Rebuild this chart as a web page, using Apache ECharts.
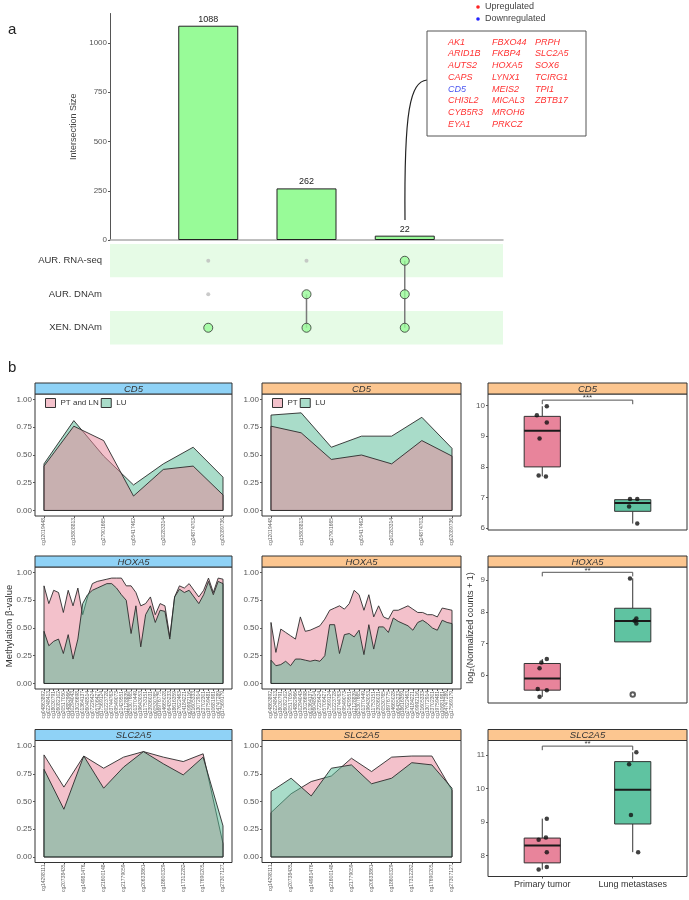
<!DOCTYPE html>
<html>
<head>
<meta charset="utf-8">
<script src="https://cdn.jsdelivr.net/npm/echarts@6/dist/echarts.min.js"></script>
<style>
  html, body { margin: 0; padding: 0; background: #fff; }
  #chart { width: 689px; height: 900px; }
</style>
</head>
<body>
<div id="chart"></div>
<script>
// ---------- panel a : UpSet ----------
const setNames = ["AUR. RNA-seq", "AUR. DNAm", "XEN. DNAm"];
const intersectSizes = [1088, 262, 22];
// membership[set][intersection]
const membership = [
  [0, 0, 1],
  [0, 1, 1],
  [1, 1, 1],
];
const sizeTicks = [0, 250, 500, 750, 1000];
const geneCols = [
  ["AK1", "ARID1B", "AUTS2", "CAPS", "CD5", "CHI3L2", "CYB5R3", "EYA1"],
  ["FBXO44", "FKBP4", "HOXA5", "LYNX1", "MEIS2", "MICAL3", "MROH6", "PRKCZ"],
  ["PRPH", "SLC2A5", "SOX6", "TCIRG1", "TPI1", "ZBTB17"],
];
const downGenes = ["CD5"];

// ---------- panel b : methylation areas ----------
const betaTicks = [0, 0.25, 0.5, 0.75, 1];
const cd5Probes = ["cg12019448", "cg15808813", "cg27901665", "cg05417462", "cg20283314", "cg24874703", "cg02089736"];
const cd5TumPtLn = [0.40, 0.76, 0.63, 0.13, 0.37, 0.40, 0.14];
const cd5TumLu = [0.42, 0.81, 0.49, 0.23, 0.42, 0.57, 0.30];
const cd5XenPt = [0.76, 0.70, 0.46, 0.50, 0.42, 0.63, 0.49];
const cd5XenLu = [0.86, 0.88, 0.57, 0.67, 0.67, 0.84, 0.56];

const hoxa5Probes = ["cg04863892", "cg02248413", "cg18030791", "cg26082102", "cg20517050", "cg14882966", "cg10294043",
  "cg13026698", "cg01364137", "cg26048514", "cg07226424", "cg05706427", "cg17569124", "cg20223728", "cg03744763",
  "cg09549073", "cg21429551", "cg12128839", "cg25307665", "cg01370449", "cg19643053", "cg11753151", "cg23936031",
  "cg00530765", "cg16976775", "cg14665028", "cg06435233", "cg18616359", "cg27622463", "cg24184221", "cg09992116",
  "cg21605333", "cg13072914", "cg23702301", "cg19759481", "cg10681981", "cg04747289", "cg17569179"];
const hoxa5TumPtLn = [0.88, 0.72, 0.84, 0.82, 0.64, 0.84, 0.70, 0.86, 0.62, 0.78, 0.90, 0.92, 0.93, 0.94, 0.95, 0.95,
  0.95, 0.88, 0.88, 0.82, 0.70, 0.72, 0.78, 0.62, 0.72, 0.70, 0.42, 0.78, 0.88, 0.86, 0.90, 0.84, 0.78, 0.84, 0.95,
  0.82, 0.95, 0.94];
const hoxa5TumLu = [0.47, 0.34, 0.38, 0.40, 0.27, 0.44, 0.22, 0.40, 0.72, 0.80, 0.84, 0.86, 0.88, 0.90, 0.90, 0.86,
  0.80, 0.75, 0.45, 0.70, 0.33, 0.62, 0.70, 0.55, 0.66, 0.65, 0.40, 0.78, 0.85, 0.82, 0.84, 0.78, 0.72, 0.80, 0.92,
  0.80, 0.92, 0.90];
const hoxa5XenPt = [0.55, 0.28, 0.49, 0.46, 0.43, 0.40, 0.60, 0.47, 0.48, 0.50, 0.52, 0.58, 0.66, 0.68, 0.70, 0.67,
  0.72, 0.84, 0.80, 0.66, 0.80, 0.60, 0.70, 0.60, 0.58, 0.66, 0.66, 0.68, 0.70, 0.67, 0.64, 0.64, 0.62, 0.62, 0.60,
  0.68, 0.67, 0.66];
const hoxa5XenLu = [0.21, 0.16, 0.17, 0.20, 0.16, 0.22, 0.22, 0.21, 0.20, 0.21, 0.20, 0.25, 0.53, 0.53, 0.27, 0.44,
  0.45, 0.42, 0.48, 0.26, 0.53, 0.31, 0.51, 0.51, 0.46, 0.59, 0.56, 0.54, 0.52, 0.48, 0.55, 0.57, 0.54, 0.50, 0.48,
  0.57, 0.55, 0.54];

const slc2a5Probes = ["cg14298111", "cg20738435", "cg14981476", "cg21600148", "cg21779059", "cg20633861",
  "cg18600329", "cg17312282", "cg17690205", "cg27307127"];
const slc2a5TumPtLn = [0.92, 0.63, 0.91, 0.80, 0.90, 0.95, 0.90, 0.86, 0.93, 0.12];
const slc2a5TumLu = [0.79, 0.43, 0.91, 0.62, 0.81, 0.95, 0.84, 0.74, 0.90, 0.28];
const slc2a5XenPt = [0.40, 0.57, 0.68, 0.73, 0.89, 0.77, 0.90, 0.91, 0.91, 0.60];
const slc2a5XenLu = [0.59, 0.71, 0.55, 0.80, 0.83, 0.66, 0.71, 0.85, 0.83, 0.62];

// ---------- panel b : expression boxplots ----------
const boxGroups = ["Primary tumor", "Lung metastases"];
// [lower whisker, Q1, median, Q3, upper whisker]
const cd5Box = [[7.69, 8.0, 9.18, 9.65, 9.98], [6.15, 6.55, 6.82, 6.93, 6.95]];
const cd5Points = [[0.94, 9.69], [1.05, 9.98], [1.05, 9.45], [0.97, 8.93], [0.96, 7.72], [1.04, 7.69],
  [1.97, 6.95], [2.05, 6.95], [1.96, 6.71], [2.05, 6.15]];
const cd5Outliers = [];
const cd5Sig = "***";
const cd5Ticks = [6, 7, 8, 9, 10];

const hoxa5Box = [[5.32, 5.53, 5.90, 6.37, 6.51], [7.05, 7.05, 7.71, 8.11, 9.05]];
const hoxa5Points = [[0.99, 6.40], [1.05, 6.51], [0.97, 6.22], [0.95, 5.57], [1.05, 5.53], [0.97, 5.32],
  [1.97, 9.05], [2.04, 7.79], [2.04, 7.63], [2.02, 7.72]];
const hoxa5Outliers = [[2, 5.39]];
const hoxa5Sig = "**";
const hoxa5Ticks = [6, 7, 8, 9];

const slc2a5Box = [[7.58, 7.78, 8.30, 8.52, 9.10], [8.10, 8.94, 9.96, 10.80, 11.08]];
const slc2a5Points = [[1.05, 9.10], [0.96, 8.47], [1.04, 8.54], [1.05, 8.10], [0.96, 7.58], [1.05, 7.66],
  [2.04, 11.08], [1.96, 10.72], [1.98, 9.21], [2.06, 8.10]];
const slc2a5Outliers = [];
const slc2a5Sig = "**";
const slc2a5Ticks = [8, 9, 10, 11];

// ---------- build ----------
const FONT = '"Liberation Sans", Arial, sans-serif';
const PINK = "rgba(231,131,151,0.5)";
const TEAL = "rgba(83,185,147,0.5)";
const BOX_COLORS = ["#e8849b", "#5fc3a1"];
const BLUE_STRIP = "#8fd2f6";
const ORANGE_STRIP = "#fcc690";

const chart = echarts.init(document.getElementById("chart"));
const grids = [], xAxes = [], yAxes = [], series = [], legends = [], graphics = [];

function txt(text, x, y, opts) {
  return Object.assign({
    type: "text", x: x, y: y, silent: true,
    style: Object.assign({
      text: text, x: 0, y: 0, fill: "#222", font: "10px " + FONT,
      textAlign: "left", textVerticalAlign: "middle", align: "left", verticalAlign: "middle",
    }, opts && opts.style),
  }, opts && opts.el);
}

// --- panel a
graphics.push(txt("a", 8, 30, { style: { font: "15px " + FONT } }));
grids.push({ left: 110, top: 13.5, width: 393, height: 226.5 });
xAxes.push({
  type: "value", gridIndex: 0, min: 0, max: 4,
  axisLine: { show: true, onZero: false, lineStyle: { color: "#aaa", width: 1.5 } },
  axisTick: { show: false }, axisLabel: { show: false }, splitLine: { show: false },
});
yAxes.push({
  type: "value", gridIndex: 0, min: 0, max: 1150,
  axisLine: { show: true, onZero: false, lineStyle: { color: "#555", width: 1 } },
  axisTick: { show: true, length: 2, customValues: sizeTicks, lineStyle: { color: "#555" } },
  axisLabel: { customValues: sizeTicks, fontSize: 8, color: "#555", margin: 3, fontFamily: FONT,
    formatter: v => String(v) },
  splitLine: { show: false },
  name: "Intersection Size", nameLocation: "middle", nameGap: 25,
  nameTextStyle: { fontSize: 9, color: "#444", fontFamily: FONT },
});
series.push({
  type: "bar", xAxisIndex: 0, yAxisIndex: 0, barWidth: 60,
  data: intersectSizes.map((v, i) => [i + 1, v]),
  itemStyle: { color: "#98fb98", borderColor: "#222", borderWidth: 1 },
  label: { show: true, position: "top", distance: 2, fontSize: 9, color: "#222", fontFamily: FONT },
});

grids.push({ left: 110, top: 244, width: 393, height: 100.5 });
xAxes.push({ type: "value", gridIndex: 1, min: 0, max: 4, show: false });
yAxes.push({
  type: "category", gridIndex: 1, data: setNames, inverse: true,
  axisLine: { show: false, onZero: false }, axisTick: { show: false },
  axisLabel: { fontSize: 9.5, color: "#333", margin: 8, fontFamily: FONT },
  splitArea: { show: true, areaStyle: { color: ["#e6fbe6", "#ffffff"] } },
});
const absentDots = [], presentDots = [];
membership.forEach((row, i) => row.forEach((m, j) => {
  (m ? presentDots : absentDots).push([j + 1, setNames[i]]);
}));
intersectSizes.forEach((_, j) => {
  const rows = setNames.filter((_, i) => membership[i][j]);
  if (rows.length > 1) {
    series.push({
      type: "line", xAxisIndex: 1, yAxisIndex: 1, symbol: "none", z: 2,
      data: [[j + 1, rows[0]], [j + 1, rows[rows.length - 1]]],
      lineStyle: { color: "#7a7a7a", width: 1.5 },
    });
  }
});
series.push({
  type: "scatter", xAxisIndex: 1, yAxisIndex: 1, data: absentDots, symbolSize: 4, z: 3,
  itemStyle: { color: "#bdbdbd" },
});
series.push({
  type: "scatter", xAxisIndex: 1, yAxisIndex: 1, data: presentDots, symbolSize: 9, z: 3,
  itemStyle: { color: "#98fb98", borderColor: "#333", borderWidth: 1 },
});

// gene annotation box
graphics.push({
  type: "bezierCurve", silent: true,
  shape: { x1: 405, y1: 220, cpx1: 404, cpy1: 110, cpx2: 410, cpy2: 82, x2: 427, y2: 80 },
  style: { stroke: "#222", lineWidth: 1.2, fill: null },
});
graphics.push({
  type: "rect", silent: true, shape: { x: 427, y: 31, width: 159, height: 105 },
  style: { fill: "#fff", stroke: "#555", lineWidth: 1 },
});
const geneColX = [448, 492, 535];
geneCols.forEach((col, c) => col.forEach((g, r) => {
  graphics.push(txt(g, geneColX[c], 42 + r * 11.75, {
    style: { font: "italic 9px " + FONT, fill: downGenes.includes(g) ? "#4a55f0" : "#f33" },
  }));
}));
graphics.push({ type: "circle", silent: true, shape: { cx: 478, cy: 7, r: 1.8 }, style: { fill: "#f22" } });
graphics.push({ type: "circle", silent: true, shape: { cx: 478, cy: 19, r: 1.8 }, style: { fill: "#22f" } });
graphics.push(txt("Upregulated", 485, 7, { style: { font: "9px " + FONT, fill: "#444" } }));
graphics.push(txt("Downregulated", 485, 19, { style: { font: "9px " + FONT, fill: "#444" } }));

// --- panel b
graphics.push(txt("b", 8, 368, { style: { font: "15px " + FONT } }));
const rowTop = [383, 556, 729.5];
const STRIP_H = 11;
const AREA_H = 122;
const BOX_H = 136;
const PAD = 9;
const colL = { x: 35, w: 197 }, colM = { x: 262, w: 199 }, colR = { x: 488, w: 199 };

function strip(col, row, gene, color) {
  graphics.push({
    type: "rect", silent: true, z: 10,
    shape: { x: col.x, y: rowTop[row], width: col.w, height: STRIP_H },
    style: { fill: color, stroke: "#333", lineWidth: 1 },
  });
  graphics.push(txt(gene, col.x + col.w / 2, rowTop[row] + STRIP_H / 2 + 0.5, {
    el: { z: 11 },
    style: { font: "italic 9.5px " + FONT, fill: "#333", textAlign: "center", align: "center" },
  }));
}

function areaPanel(col, row, gene, stripColor, probes, layers, legendNames) {
  const gi = grids.length;
  const top = rowTop[row] + STRIP_H;
  const n = probes.length;
  const idx = probes.map((_, i) => i);
  const m = PAD * (n - 1) / (col.w - 2 * PAD);
  grids.push({ left: col.x, top: top, width: col.w, height: AREA_H, show: true,
    borderColor: "#333", borderWidth: 1, backgroundColor: "transparent" });
  xAxes.push({
    type: "value", gridIndex: gi, min: -m, max: n - 1 + m,
    axisLine: { show: false, onZero: false }, splitLine: { show: false },
    axisTick: { customValues: idx, length: 2, lineStyle: { color: "#555" } },
    axisLabel: { customValues: idx, rotate: 90, fontSize: 5, color: "#666", margin: 2,
      fontFamily: FONT, formatter: v => probes[v] },
  });
  yAxes.push({
    type: "value", gridIndex: gi, min: -0.05, max: 1.05,
    axisLine: { show: false, onZero: false }, splitLine: { show: false },
    axisTick: { customValues: betaTicks, length: 2, lineStyle: { color: "#555" } },
    axisLabel: { customValues: betaTicks, fontSize: 8, color: "#555", margin: 3,
      fontFamily: FONT, formatter: v => v.toFixed(2) },
  });
  layers.forEach(layer => {
    const vals = layer.vals;
    series.push({
      type: "custom", name: layer.name, xAxisIndex: gi, yAxisIndex: gi,
      data: vals.map((v, i) => [i, v]),
      itemStyle: { color: layer.fill },
      renderItem: (params, api) => {
        if (params.dataIndex !== 0) return null;
        const pts = vals.map((v, i) => api.coord([i, v]));
        const b0 = api.coord([0, 0]), b1 = api.coord([vals.length - 1, 0]);
        return {
          type: "polygon",
          shape: { points: [b0].concat(pts, [b1]) },
          style: { fill: layer.fill, stroke: "#2b2b2b", lineWidth: 0.9 },
        };
      },
    });
  });
  if (legendNames) {
    legends.push({
      left: col.x + 10, top: top + 4, padding: 0, itemGap: 2, itemWidth: 10, itemHeight: 9,
      icon: "rect", selectedMode: false,
      data: legendNames.map(ln => ({ name: ln.name, itemStyle: { color: ln.fill, borderColor: "#333", borderWidth: 1 } })),
      textStyle: { fontSize: 8, color: "#333", fontFamily: FONT },
    });
  }
  strip(col, row, gene, stripColor);
}

function boxPanel(row, gene, yMin, yMax, ticks, stats, pts, outliers, sig, showX) {
  const gi = grids.length;
  const top = rowTop[row] + STRIP_H;
  grids.push({ left: colR.x, top: top, width: colR.w, height: BOX_H, show: true,
    borderColor: "#333", borderWidth: 1, backgroundColor: "transparent" });
  xAxes.push({
    type: "value", gridIndex: gi, min: 0.4, max: 2.6,
    axisLine: { show: false, onZero: false }, splitLine: { show: false },
    axisTick: { show: showX, customValues: [1, 2], length: 2, lineStyle: { color: "#555" } },
    axisLabel: { show: showX, customValues: [1, 2], fontSize: 9, color: "#333", margin: 4,
      fontFamily: FONT, formatter: v => boxGroups[v - 1] },
  });
  yAxes.push({
    type: "value", gridIndex: gi, min: yMin, max: yMax,
    axisLine: { show: false, onZero: false }, splitLine: { show: false },
    axisTick: { customValues: ticks, length: 2, lineStyle: { color: "#555" } },
    axisLabel: { customValues: ticks, fontSize: 8, color: "#555", margin: 3, fontFamily: FONT },
  });
  series.push({
    type: "custom", xAxisIndex: gi, yAxisIndex: gi, z: 2,
    data: stats.map((s, i) => [i + 1].concat(s)),
    renderItem: (params, api) => {
      const x = api.value(0);
      const lo = api.coord([x, api.value(1)]), q1 = api.coord([x, api.value(2)]);
      const md = api.coord([x, api.value(3)]), q3 = api.coord([x, api.value(4)]);
      const hi = api.coord([x, api.value(5)]);
      const hw = api.size([0.4, 0])[0] / 2;
      const ls = { stroke: "#333", lineWidth: 1 };
      return {
        type: "group", children: [
          { type: "line", shape: { x1: md[0], y1: hi[1], x2: md[0], y2: q3[1] }, style: ls },
          { type: "line", shape: { x1: md[0], y1: q1[1], x2: md[0], y2: lo[1] }, style: ls },
          { type: "rect", shape: { x: md[0] - hw, y: q3[1], width: 2 * hw, height: q1[1] - q3[1] },
            style: { fill: BOX_COLORS[params.dataIndex], stroke: "#333", lineWidth: 1 } },
          { type: "line", shape: { x1: md[0] - hw, y1: md[1], x2: md[0] + hw, y2: md[1] },
            style: { stroke: "#1a1a1a", lineWidth: 2 } },
        ],
      };
    },
  });
  // significance bracket just above the highest whisker
  const top1 = Math.max(stats[0][4], stats[1][4]);
  const span = yMax - yMin;
  const bracket = [[1, 2, top1 + span * 0.045, top1 + span * 0.015]];
  series.push({
    type: "custom", xAxisIndex: gi, yAxisIndex: gi, z: 3, data: bracket,
    renderItem: (params, api) => {
      const a = api.coord([api.value(0), api.value(2)]);
      const b = api.coord([api.value(1), api.value(2)]);
      const d = api.coord([api.value(0), api.value(3)])[1];
      const ls = { stroke: "#555", lineWidth: 1, fill: null };
      return {
        type: "group", children: [
          { type: "polyline", shape: { points: [[a[0], d], a, b, [b[0], d]] }, style: ls },
          { type: "text", x: (a[0] + b[0]) / 2, y: a[1] - 2,
            style: { text: sig, fill: "#333", font: "8px " + FONT, align: "center", verticalAlign: "middle",
              textAlign: "center", textVerticalAlign: "middle" } },
        ],
      };
    },
  });
  series.push({
    type: "scatter", xAxisIndex: gi, yAxisIndex: gi, z: 4, data: pts, symbolSize: 4.5,
    itemStyle: { color: "#111" },
  });
  if (outliers.length) {
    series.push({
      type: "scatter", xAxisIndex: gi, yAxisIndex: gi, z: 4, data: outliers, symbol: "emptyCircle",
      symbolSize: 4.5, itemStyle: { color: "#333", borderWidth: 1 },
    });
  }
  strip(colR, row, gene, ORANGE_STRIP);
}

const tumLegend = [{ name: "PT and LN", fill: PINK }, { name: "LU", fill: TEAL }];
const xenLegend = [{ name: "PT", fill: PINK }, { name: "LU", fill: TEAL }];

// row 1: CD5 (PT drawn on top)
areaPanel(colL, 0, "CD5", BLUE_STRIP, cd5Probes,
  [{ name: "LU", vals: cd5TumLu, fill: TEAL }, { name: "PT and LN", vals: cd5TumPtLn, fill: PINK }], tumLegend);
areaPanel(colM, 0, "CD5", ORANGE_STRIP, cd5Probes,
  [{ name: "LU", vals: cd5XenLu, fill: TEAL }, { name: "PT", vals: cd5XenPt, fill: PINK }], xenLegend);
boxPanel(0, "CD5", 5.94, 10.38, cd5Ticks, cd5Box, cd5Points, cd5Outliers, cd5Sig, false);

// row 2: HOXA5 (LU drawn on top)
areaPanel(colL, 1, "HOXA5", BLUE_STRIP, hoxa5Probes,
  [{ name: "PT and LN", vals: hoxa5TumPtLn, fill: PINK }, { name: "LU", vals: hoxa5TumLu, fill: TEAL }], null);
areaPanel(colM, 1, "HOXA5", ORANGE_STRIP, hoxa5Probes,
  [{ name: "PT", vals: hoxa5XenPt, fill: PINK }, { name: "LU", vals: hoxa5XenLu, fill: TEAL }], null);
boxPanel(1, "HOXA5", 5.125, 9.41, hoxa5Ticks, hoxa5Box, hoxa5Points, hoxa5Outliers, hoxa5Sig, false);

// row 3: SLC2A5
areaPanel(colL, 2, "SLC2A5", BLUE_STRIP, slc2a5Probes,
  [{ name: "PT and LN", vals: slc2a5TumPtLn, fill: PINK }, { name: "LU", vals: slc2a5TumLu, fill: TEAL }], null);
areaPanel(colM, 2, "SLC2A5", ORANGE_STRIP, slc2a5Probes,
  [{ name: "PT", vals: slc2a5XenPt, fill: PINK }, { name: "LU", vals: slc2a5XenLu, fill: TEAL }], null);
boxPanel(2, "SLC2A5", 7.374, 11.43, slc2a5Ticks, slc2a5Box, slc2a5Points, slc2a5Outliers, slc2a5Sig, true);

// shared axis titles
graphics.push(txt("Methylation β-value", 9, 626, {
  el: { rotation: Math.PI / 2 },
  style: { font: "9.5px " + FONT, fill: "#333", textAlign: "center", align: "center" },
}));
graphics.push(txt("log₂(Normalized counts + 1)", 471, 628, {
  el: { rotation: Math.PI / 2 },
  style: { font: "9px " + FONT, fill: "#333", textAlign: "center", align: "center" },
}));

chart.setOption({
  animation: false,
  backgroundColor: "#fff",
  textStyle: { fontFamily: FONT },
  grid: grids,
  xAxis: xAxes,
  yAxis: yAxes,
  legend: legends,
  series: series,
  graphic: { elements: graphics },
});
</script>
</body>
</html>
